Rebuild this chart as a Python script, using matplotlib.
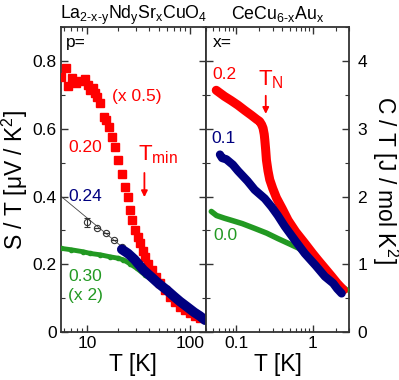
import matplotlib
matplotlib.use("Agg")
import matplotlib.pyplot as plt
from matplotlib.ticker import LogLocator, MultipleLocator, NullFormatter, FixedLocator, FixedFormatter

plt.rcParams['font.family'] = ['Liberation Sans', 'DejaVu Sans']
plt.rcParams['mathtext.fontset'] = 'custom'
plt.rcParams['mathtext.rm'] = 'Liberation Sans'
plt.rcParams['mathtext.it'] = 'Liberation Sans'
plt.rcParams['mathtext.bf'] = 'Liberation Sans:bold'

# ---- Left panel: La2-x-yNdySrxCuO4, S/T vs T ----
red_T = [5.64, 6.3, 6.6, 7.2, 7.8, 8.6, 9.6, 10.2, 10.8, 11.4, 12.0, 12.5, 13.5, 14.5,
         15.4, 16.2, 17.4, 18.8, 20.2, 21.8, 23.5, 25.3, 26.3, 27.3, 29.3, 31.0, 32.8,
         34.7, 36.7, 39.5, 42.6, 46.5, 51.3, 57.0, 64.1, 72.0, 80.0, 90.0, 100.0, 112.0, 125.0]
red_S = [0.753, 0.78, 0.726, 0.75, 0.735, 0.74, 0.747, 0.73, 0.714, 0.72, 0.705, 0.695, 0.676, 0.636,
         0.625, 0.606, 0.577, 0.547, 0.508, 0.468, 0.429, 0.399, 0.36, 0.331, 0.301, 0.28, 0.262,
         0.24, 0.222, 0.2, 0.183, 0.163, 0.144, 0.123, 0.104, 0.088, 0.075, 0.065, 0.055, 0.048, 0.04]

blue_T = [21.8, 25, 29, 35.4, 42, 50, 59.5, 70, 80, 93, 110, 125, 140]
blue_S = [0.244, 0.232, 0.214, 0.183, 0.163, 0.142, 0.124, 0.105, 0.09, 0.075, 0.058, 0.047, 0.035]

green_T = [5.64, 7.0, 9.2, 10.8, 13.5, 16.8, 20.0, 22.6, 26.0, 30.5, 36.7, 45.0, 60.0, 80.0, 100.0, 130.0]
green_S = [0.247, 0.243, 0.237, 0.232, 0.228, 0.222, 0.218, 0.213, 0.202, 0.188, 0.168, 0.15, 0.12, 0.09, 0.07, 0.045]

open_T = [10.1, 12.5, 15.3, 18.1, 21.8]
open_S = [0.324, 0.306, 0.291, 0.272, 0.252]
open_err = [0.013, 0, 0, 0, 0]
guide_T = [5.64, 21.8]
guide_S = [0.40, 0.252]

# ---- Right panel: CeCu6-xAux, C/T vs T ----
r02_T = [0.0545, 0.07, 0.085, 0.105, 0.13, 0.158, 0.185, 0.202, 0.215, 0.224, 0.232, 0.236, 0.242,
         0.248, 0.26, 0.274, 0.3, 0.336, 0.4, 0.477, 0.6, 0.79, 1.0, 1.18, 1.45, 1.78, 2.1, 2.54]
r02_C = [3.57, 3.48, 3.42, 3.35, 3.27, 3.2, 3.14, 3.11, 3.06, 3.01, 2.92, 2.84, 2.7,
         2.54, 2.38, 2.25, 2.12, 1.98, 1.82, 1.65, 1.48, 1.31, 1.16, 1.06, 0.94, 0.82, 0.72, 0.62]

b01_T = [0.061, 0.065, 0.074, 0.09, 0.105, 0.14, 0.174, 0.236, 0.289, 0.35, 0.432, 0.6, 0.79,
         1.1, 1.45, 1.86, 2.1, 2.4]
b01_C = [2.62, 2.57, 2.55, 2.47, 2.38, 2.23, 2.10, 1.97, 1.85, 1.72, 1.56, 1.34, 1.16,
         0.98, 0.82, 0.72, 0.64, 0.57]

g00_T = [0.047, 0.055, 0.07, 0.086, 0.12, 0.174, 0.25, 0.35, 0.5, 0.65, 0.87, 1.2, 1.6, 2.0, 2.8]
g00_C = [1.78, 1.72, 1.68, 1.65, 1.6, 1.53, 1.46, 1.38, 1.3, 1.24, 1.14, 0.98, 0.85, 0.74, 0.62]

RED = '#ff0000'
NAVY = '#000080'
GREEN = '#229922'
SPINE = '#333333'
FS = 12.5
LFS = 16.5

fig = plt.figure(figsize=(3.99, 3.80), dpi=100)
H = 380.0
W = 399.0
bot = 1 - 332 / H
hgt = (332 - 27.3) / H
axL = fig.add_axes([61 / W, bot, (205.7 - 61) / W, hgt])
axR = fig.add_axes([206 / W, bot, (349 - 206) / W, hgt])

# Left panel drawing
axL.plot(guide_T, guide_S, color='#444444', lw=0.6, zorder=2)
axL.errorbar(open_T, open_S, yerr=open_err, fmt='o', mfc='none', mec='#333333', ms=4.5,
             mew=0.8, ecolor='#333333', elinewidth=0.8, capsize=2, zorder=3)
axL.plot(green_T, green_S, color=GREEN, lw=3.5, marker='o', ms=3, zorder=3)
axL.plot(red_T, red_S, linestyle='none', marker='s', ms=6, color=RED, zorder=4)
axL.plot(blue_T, blue_S, color=NAVY, lw=7, solid_capstyle='round', zorder=5)

axL.set_xscale('log')
axL.set_xlim(5.6, 142)
axL.set_ylim(0, 0.9)
axL.xaxis.set_major_locator(FixedLocator([10, 100]))
axL.xaxis.set_major_formatter(FixedFormatter(['10', '100']))
axL.xaxis.set_minor_locator(LogLocator(base=10, subs=range(2, 10), numticks=20))
axL.xaxis.set_minor_formatter(NullFormatter())
axL.yaxis.set_major_locator(FixedLocator([0, 0.2, 0.4, 0.6, 0.8]))
axL.yaxis.set_major_formatter(FixedFormatter(['0', '0.2', '0.4', '0.6', '0.8']))
axL.yaxis.set_minor_locator(MultipleLocator(0.1))
axL.tick_params(which='both', direction='in', top=True, right=True, color=SPINE,
                labelsize=FS, pad=3)
axL.tick_params(which='major', length=5, width=1)
axL.tick_params(which='minor', length=3, width=0.8)
axL.set_xlabel('T [K]', fontsize=LFS, labelpad=1)
axL.set_ylabel('S / T [$\\mu$V / K$^2$]', fontsize=LFS, labelpad=2)
axL.set_title('La$_{2\\text{-}x\\text{-}y}$Nd$_y$Sr$_x$CuO$_4$', fontsize=12.8, pad=6)

axL.text(0.035, 0.975, 'p=', transform=axL.transAxes, fontsize=FS, va='top', ha='left')
axL.text(30.7, 0.697, '(x 0.5)', color=RED, fontsize=FS, ha='center', va='center')
axL.text(9.65, 0.546, '0.20', color=RED, fontsize=FS, ha='center', va='center')
axL.text(9.65, 0.399, '0.24', color=NAVY, fontsize=FS, ha='center', va='center')
axL.text(9.65, 0.165, '0.30', color=GREEN, fontsize=FS, ha='center', va='center')
axL.text(9.65, 0.109, '(x 2)', color=GREEN, fontsize=FS, ha='center', va='center')
axL.text(31.0, 0.525, 'T$_\\mathregular{min}$', color=RED, fontsize=16, ha='left', va='center')
axL.annotate('', xy=(36.1, 0.39), xytext=(36.1, 0.478),
             arrowprops=dict(arrowstyle='-|>', color=RED, lw=1.3, mutation_scale=9))

# Right panel drawing
axR.plot(g00_T, g00_C, color=GREEN, lw=4, solid_capstyle='round', zorder=3)
axR.plot(r02_T, r02_C, color=RED, lw=6.5, solid_capstyle='round', zorder=4)
axR.plot(b01_T, b01_C, color=NAVY, lw=6, solid_capstyle='round', zorder=5)

axR.set_xscale('log')
axR.set_xlim(0.04, 3.0)
axR.set_ylim(0, 4.5)
axR.xaxis.set_major_locator(FixedLocator([0.1, 1]))
axR.xaxis.set_major_formatter(FixedFormatter(['0.1', '1']))
axR.xaxis.set_minor_locator(LogLocator(base=10, subs=range(2, 10), numticks=20))
axR.xaxis.set_minor_formatter(NullFormatter())
axR.yaxis.set_major_locator(FixedLocator([0, 1, 2, 3, 4]))
axR.yaxis.set_major_formatter(FixedFormatter(['0', '1', '2', '3', '4']))
axR.yaxis.set_minor_locator(MultipleLocator(0.5))
axR.yaxis.tick_right()
axR.yaxis.set_label_position('right')
axR.tick_params(which='both', direction='in', top=True, left=True, right=True, color=SPINE,
                labelsize=FS, pad=3)
axR.tick_params(axis='y', which='major', pad=6)
axR.tick_params(which='major', length=5, width=1)
axR.tick_params(which='minor', length=3, width=0.8)
axR.set_xlabel('T [K]', fontsize=LFS, labelpad=1)
axR.set_ylabel('C / T [J / mol K$^2$]', fontsize=LFS, rotation=270, labelpad=24)
axR.set_title('CeCu$_{6\\text{-}x}$Au$_x$', fontsize=12.8, pad=6)

axR.text(0.05, 0.975, 'x=', transform=axR.transAxes, fontsize=FS, va='top', ha='left')
axR.text(0.0702, 3.81, '0.2', color=RED, fontsize=FS, ha='center', va='center')
axR.text(0.068, 2.86, '0.1', color=NAVY, fontsize=FS, ha='center', va='center')
axR.text(0.072, 1.43, '0.0', color=GREEN, fontsize=FS, ha='center', va='center')
axR.text(0.195, 3.72, 'T$_\\mathregular{N}$', color=RED, fontsize=16, ha='left', va='center')
axR.annotate('', xy=(0.243, 3.18), xytext=(0.243, 3.53),
             arrowprops=dict(arrowstyle='-|>', color=RED, lw=1.3, mutation_scale=9))

for ax in (axL, axR):
    for s in ax.spines.values():
        s.set_color(SPINE)
        s.set_linewidth(1.3)

fig.savefig('out.png', dpi=100)
